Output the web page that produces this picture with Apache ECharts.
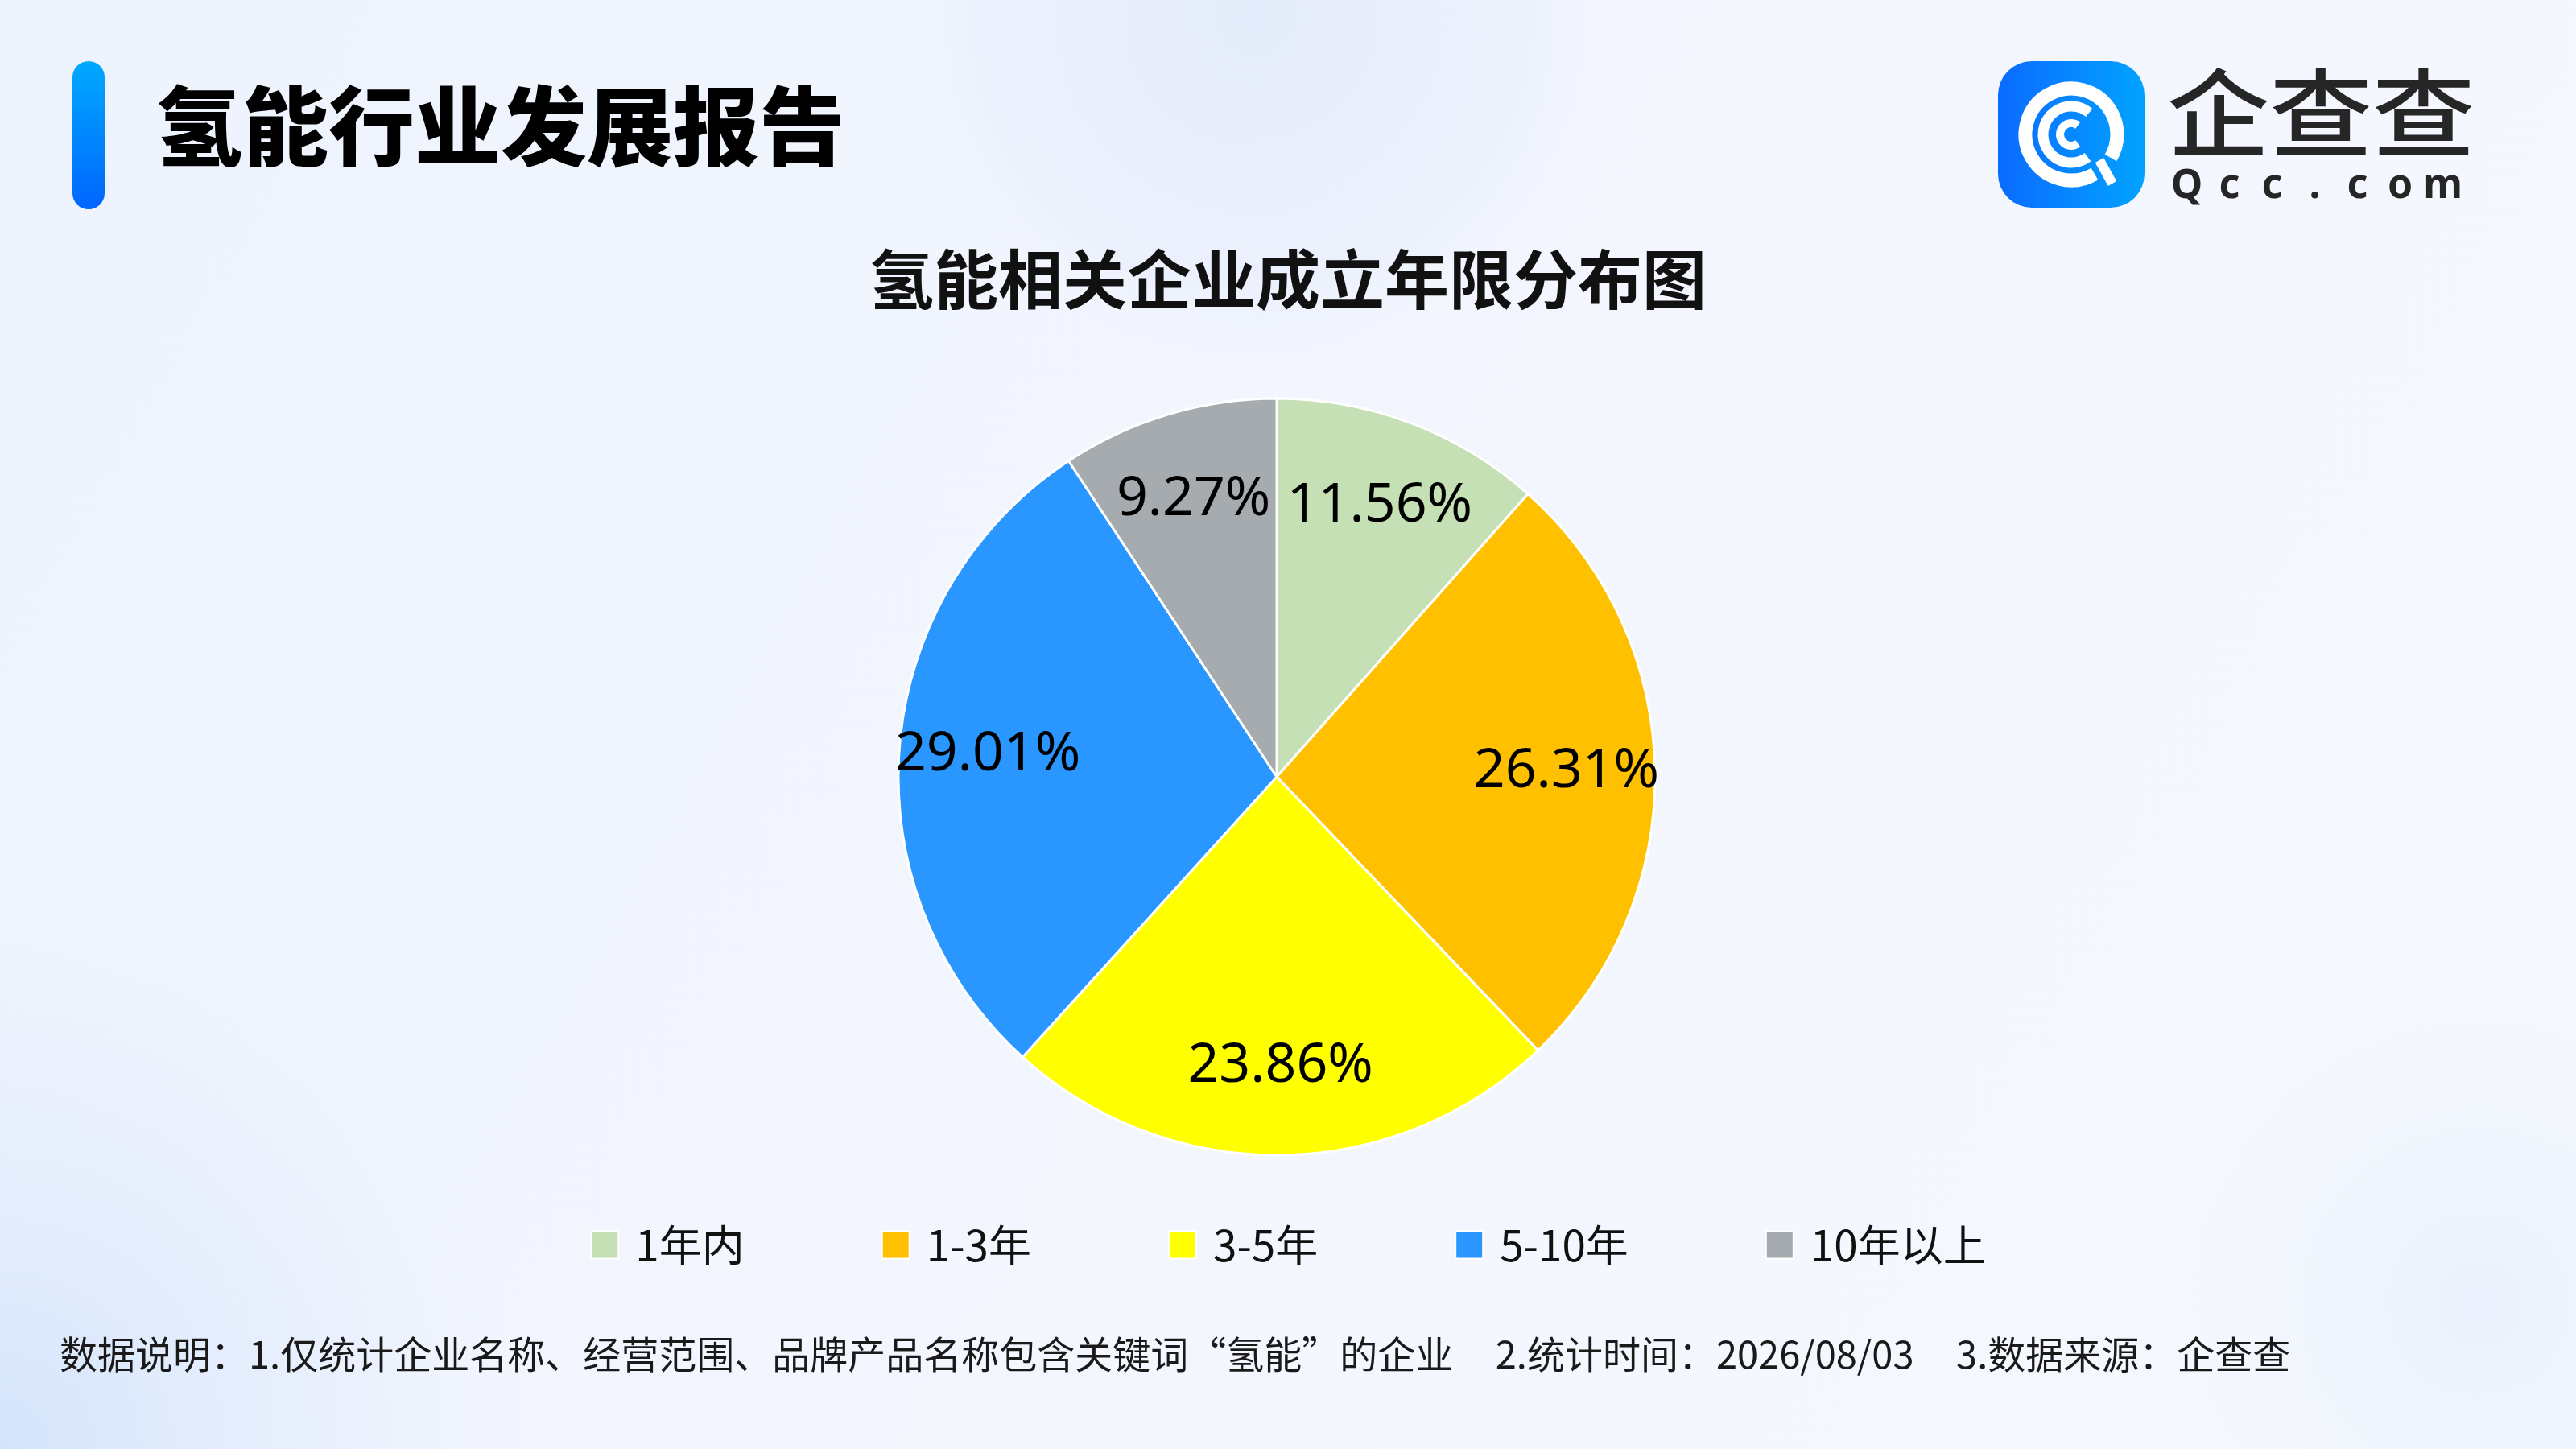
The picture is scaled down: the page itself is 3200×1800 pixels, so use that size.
<!DOCTYPE html>
<html>
<head>
<meta charset="utf-8">
<title>氢能相关企业成立年限分布图</title>
<script src="https://cdn.jsdelivr.net/npm/echarts@6/dist/echarts.min.js"></script>
<style>
  html, body { margin: 0; padding: 0; width: 100%; height: 100%; overflow: hidden; }
  #chart { width: 3200px; height: 1800px; }
</style>
</head>
<body>
<div id="chart"></div>
<script>
// 数据
var reportTitle = '氢能行业发展报告';
var chartTitle = '氢能相关企业成立年限分布图';
var categories = ['1年内', '1-3年', '3-5年', '5-10年', '10年以上'];
var shares = [11.56, 26.31, 23.86, 29.01, 9.27];
var colors = ['#c5e0b4', '#ffc000', '#ffff00', '#2997ff', '#a6abaf'];
var footnote = '数据说明：1.仅统计企业名称、经营范围、品牌产品名称包含关键词“氢能”的企业     2.统计时间：2026/08/03     3.数据来源：企查查';

var cjk = '"Noto Sans CJK SC", "Noto Sans", sans-serif';

var pieData = categories.map(function (name, i) {
    return { name: name, value: shares[i], itemStyle: { color: colors[i] } };
});

// Qcc.com 字母间距用富文本等宽格子
var qccText = 'Qcc.com'.split('').map(function (ch) {
    return '{c|' + ch + '}';
}).join('');

var myChart = echarts.init(document.getElementById('chart'), null, { renderer: 'canvas' });

var option = {
    backgroundColor: {
        type: 'linear', x: 0, y: 0, x2: 1, y2: 1,
        colorStops: [
            { offset: 0, color: '#edf3fd' },
            { offset: 0.5, color: '#f3f6fe' },
            { offset: 1, color: '#f5f8fe' }
        ]
    },
    graphic: [
        // 背景光晕
        {
            type: 'circle', silent: true, z: -10,
            shape: { cx: 1560, cy: 20, r: 430 },
            style: {
                fill: {
                    type: 'radial', x: 0.5, y: 0.5, r: 0.5,
                    colorStops: [
                        { offset: 0, color: 'rgba(226,234,250,0.9)' },
                        { offset: 0.8, color: 'rgba(230,237,251,0.5)' },
                        { offset: 1, color: 'rgba(236,242,253,0)' }
                    ]
                }
            }
        },
        {
            type: 'circle', silent: true, z: -10,
            shape: { cx: 0, cy: 1800, r: 650 },
            style: {
                fill: {
                    type: 'radial', x: 0.5, y: 0.5, r: 0.5,
                    colorStops: [
                        { offset: 0, color: 'rgba(205,224,250,0.8)' },
                        { offset: 1, color: 'rgba(220,232,252,0)' }
                    ]
                }
            }
        },
        {
            type: 'circle', silent: true, z: -10,
            shape: { cx: 3080, cy: 1620, r: 380 },
            style: {
                fill: {
                    type: 'radial', x: 0.5, y: 0.5, r: 0.5,
                    colorStops: [
                        { offset: 0, color: 'rgba(232,239,252,0.8)' },
                        { offset: 1, color: 'rgba(236,242,253,0)' }
                    ]
                }
            }
        },
        // 标题竖条
        {
            type: 'rect',
            shape: { x: 90, y: 76, width: 40, height: 184, r: 20 },
            style: {
                fill: {
                    type: 'linear', x: 0, y: 0, x2: 0, y2: 1,
                    colorStops: [
                        { offset: 0, color: '#00a9ff' },
                        { offset: 1, color: '#0066ff' }
                    ]
                }
            }
        },
        {
            type: 'text',
            style: {
                text: reportTitle,
                x: 194, y: 156,
                fontSize: 107, fontWeight: 900,
                fontFamily: cjk,
                fill: '#000',
                textVerticalAlign: 'middle'
            }
        },
        // 企查查 logo
        {
            type: 'rect',
            shape: { x: 2482, y: 76, width: 182, height: 182, r: 42 },
            style: {
                fill: {
                    type: 'linear', x: 0, y: 0, x2: 1, y2: 0,
                    colorStops: [
                        { offset: 0, color: '#0a6bff' },
                        { offset: 1, color: '#02a3ff' }
                    ]
                }
            }
        },
        {
            type: 'arc',
            shape: { cx: 2573, cy: 167, r: 57, startAngle: Math.PI * 0.33, endAngle: Math.PI * 0.17, clockwise: true },
            style: { stroke: '#fff', lineWidth: 17, fill: null }
        },
        {
            type: 'arc',
            shape: { cx: 2573, cy: 167, r: 35, startAngle: Math.PI * 0.3, endAngle: Math.PI * 1.72, clockwise: true },
            style: { stroke: '#fff', lineWidth: 13, fill: null }
        },
        {
            type: 'arc',
            shape: { cx: 2573, cy: 167, r: 14, startAngle: Math.PI * 0.3, endAngle: Math.PI * 1.7, clockwise: true },
            style: { stroke: '#fff', lineWidth: 10, fill: null }
        },
        {
            type: 'line',
            shape: { x1: 2608, y1: 199, x2: 2624, y2: 228 },
            style: { stroke: '#fff', lineWidth: 12 }
        },
        {
            type: 'text',
            x: 2692, y: 140,
            scaleX: 1.08,
            style: {
                text: '企查查',
                x: 0, y: 0,
                fontSize: 118, fontWeight: 500,
                fontFamily: cjk,
                fill: '#262626',
                textVerticalAlign: 'middle'
            }
        },
        {
            type: 'text',
            style: {
                text: qccText,
                x: 2690, y: 232,
                fill: '#262626',
                textVerticalAlign: 'middle',
                rich: {
                    c: {
                        width: 53, align: 'center',
                        fontSize: 50, fontWeight: 700,
                        fontFamily: '"Noto Sans", sans-serif',
                        fill: '#262626'
                    }
                }
            }
        },
        // 数据说明
        {
            type: 'text',
            style: {
                text: footnote,
                x: 74, y: 1682,
                fontSize: 47,
                fontFamily: cjk,
                fill: '#1a1a1a',
                textVerticalAlign: 'middle'
            }
        }
    ],
    title: {
        text: chartTitle,
        left: 'center',
        top: 302,
        textStyle: {
            fontSize: 80,
            fontWeight: 'bold',
            fontFamily: cjk,
            color: '#111'
        }
    },
    legend: {
        data: categories,
        bottom: 222,
        left: 'center',
        icon: 'rect',
        itemWidth: 34,
        itemHeight: 34,
        itemGap: 170,
        textStyle: {
            fontSize: 53,
            fontFamily: cjk,
            color: '#111',
            padding: [0, 0, 0, 16]
        }
    },
    series: [
        {
            type: 'pie',
            center: [1586, 965],
            radius: [0, 470],
            startAngle: 90,
            clockwise: true,
            label: { show: false },
            labelLine: { show: false },
            itemStyle: { borderColor: '#ffffff', borderWidth: 3 },
            emphasis: { disabled: true },
            data: pieData
        },
        {
            // 百分比标签层（透明扇区，仅用于放置标签）
            type: 'pie',
            center: [1586, 965],
            radius: [244, 470],
            startAngle: 90,
            clockwise: true,
            silent: true,
            z: 3,
            itemStyle: { color: 'rgba(0,0,0,0)', borderWidth: 0 },
            label: {
                show: true,
                position: 'inside',
                formatter: function (p) { return p.value.toFixed(2) + '%'; },
                fontSize: 68,
                fontFamily: '"Noto Sans", sans-serif',
                color: '#000'
            },
            labelLine: { show: false },
            emphasis: { disabled: true },
            data: pieData.map(function (d) {
                return { name: d.name, value: d.value, itemStyle: { color: 'rgba(0,0,0,0)' } };
            })
        }
    ]
};

myChart.setOption(option);
</script>
</body>
</html>
